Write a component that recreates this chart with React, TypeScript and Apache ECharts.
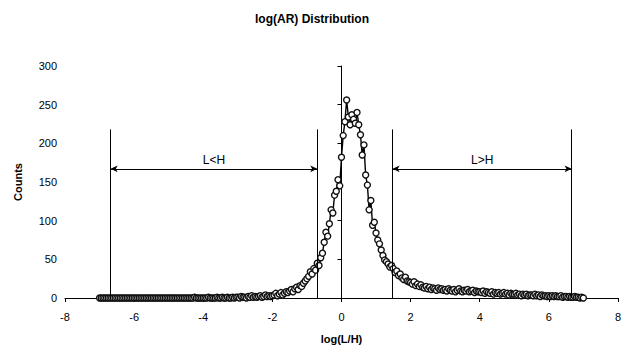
import React, { useEffect, useRef } from "react";
import * as echarts from "echarts";

const binStart = -7;
const binWidth = 0.05;
const counts: number[] = [
  0,0,0,0,0,0,0,0,0,0, 0,0,0,0,0,0,0,0,0,0, 0,0,0,0,0,0,0,0,0,0, 0,0,0,0,0,0,0,0,0,0,
  0,0,0,0,0,0,0,0,0,0, 0,0,0,0,0,1,0,0,0,0, 0,0,0,1,0,0,0,0,1,0, 0,1,0,0,1,0,0,1,0,1,
  1,0,2,1,1,0,2,1,3,1, 2,1,2,3,1,2,4,2,3,2,
  3,4,6,3,5,7,4,6,8,7,
  9,11,8,12,14,11,16,15,19,22,
  25,28,34,31,38,36,45,42,52,58,
  72,85,80,96,114,110,133,138,153,145,
  182,210,228,256,234,224,237,231,226,240,
  224,211,185,198,159,146,114,126,94,98,
  84,75,70,62,55,49,47,44,40,42,
  38,33,35,29,31,26,24,27,22,21,
  20,18,21,16,18,15,17,14,13,15, 12,14,11,13,12,10,13,11,12,10,
  11,9,12,10,9,11,8,10,12,9, 8,10,9,11,8,9,10,7,9,8,
  8,7,9,6,8,7,6,8,5,7, 6,7,5,6,7,5,6,4,6,5,
  5,6,4,5,3,5,4,5,3,4, 4,3,5,3,4,2,4,3,3,2,
  3,2,3,2,3,2,2,3,1,2, 2,1,2,1,1,2,1,1,0,1,0,
];

const boundaries = [-6.68, -0.7, 1.48, 6.66];
const boundaryTop = 218;
const arrowLevel = 167;
const regionLabels = ["L<H", "L>H"];

export default function App() {
  const ref = useRef<HTMLDivElement>(null);
  useEffect(() => {
    if (!ref.current) return;
    const chart = echarts.init(ref.current, null, { renderer: "svg" });
    const data = counts.map((c, i) => [binStart + i * binWidth, c]);
    const font = "'Liberation Sans', Arial, sans-serif";
    const vLines = boundaries.map((b) => [
      { coord: [b, 0], symbol: "none" },
      { coord: [b, boundaryTop], symbol: "none" },
    ]);
    const arrows = [
      [
        { coord: [boundaries[0], arrowLevel], label: { show: true, formatter: regionLabels[0] } },
        { coord: [boundaries[1], arrowLevel] },
      ],
      [
        { coord: [boundaries[2], arrowLevel], label: { show: true, formatter: regionLabels[1] } },
        { coord: [boundaries[3], arrowLevel] },
      ],
    ];
    chart.setOption({
      animation: false,
      backgroundColor: "#fff",
      title: {
        text: "log(AR) Distribution",
        left: "center",
        top: 8,
        textStyle: { fontFamily: font, fontSize: 12, fontWeight: "bold", color: "#000" },
      },
      grid: { left: 65, right: 3, top: 66, bottom: 53 },
      xAxis: {
        type: "value",
        min: -8,
        max: 8,
        interval: 2,
        name: "log(L/H)",
        nameLocation: "middle",
        nameGap: 35,
        nameTextStyle: { fontFamily: font, fontSize: 11, fontWeight: "bold", color: "#000" },
        axisLine: { onZero: false, lineStyle: { color: "#000", width: 1 } },
        axisTick: { show: true, length: 4, lineStyle: { color: "#000" } },
        axisLabel: { fontFamily: font, fontSize: 11, color: "#000", margin: 13 },
        splitLine: { show: false },
      },
      yAxis: {
        type: "value",
        min: 0,
        max: 300,
        interval: 50,
        name: "Counts",
        nameLocation: "middle",
        nameRotate: 90,
        nameGap: 42,
        nameTextStyle: { fontFamily: font, fontSize: 11, fontWeight: "bold", color: "#000" },
        axisLine: { show: true, lineStyle: { color: "#000", width: 1 } },
        axisTick: { show: true, length: 4, lineStyle: { color: "#000" } },
        axisLabel: { fontFamily: font, fontSize: 11, color: "#000", margin: 8 },
        splitLine: { show: false },
      },
      series: [
        {
          type: "line",
          data,
          symbol: "circle",
          symbolSize: 6,
          showAllSymbol: true,
          lineStyle: { color: "#000", width: 1.4 },
          itemStyle: { color: "#fff", borderColor: "#111", borderWidth: 1.4 },
          z: 3,
        },
        {
          type: "line",
          data: [],
          markLine: {
            silent: true,
            symbol: "none",
            lineStyle: { color: "#000", width: 1, type: "solid" },
            label: { show: false },
            data: vLines,
          },
        },
        {
          type: "line",
          data: [],
          markLine: {
            silent: true,
            symbol: ["arrow", "arrow"],
            symbolSize: [5, 7],
            lineStyle: { color: "#000", width: 1, type: "solid" },
            label: {
              show: true,
              position: "insideMiddleTop",
              distance: 3,
              fontFamily: font,
              fontSize: 12,
              color: "#000",
            },
            data: arrows,
          },
        },
      ],
    });
    return () => chart.dispose();
  }, []);
  return <div ref={ref} style={{ width: 624, height: 351, position: "absolute", left: 0, top: 0 }} />;
}
